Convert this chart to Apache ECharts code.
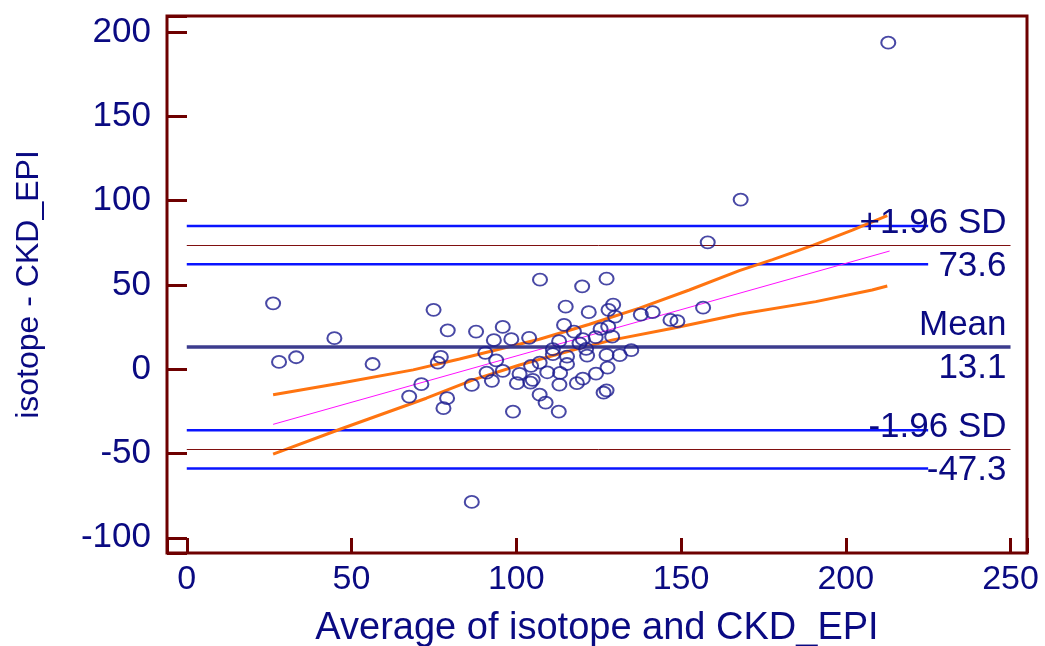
<!DOCTYPE html>
<html>
<head>
<meta charset="utf-8">
<title>Bland-Altman: isotope vs CKD_EPI</title>
<script src="https://cdn.jsdelivr.net/npm/echarts@6/dist/echarts.min.js"></script>
<style>
  html, body { margin: 0; padding: 0; background: #ffffff; }
  #chart { width: 1045px; height: 646px; }
</style>
</head>
<body>
<div id="chart"></div>
<script>
// Per-subject averages (x) and differences isotope - CKD_EPI (y)
const avgValues = [
  212.9, 168.1, 26.2, 74.9, 79.2, 44.8, 28.0, 33.2, 56.4, 77.1, 76.2,
  71.2, 67.5, 79.0, 77.9,
  158.1, 107.2, 120.0, 127.4, 115.0, 122.0, 128.0, 129.4, 130.0, 137.8,
  141.4, 146.8, 148.9, 156.7, 114.5, 117.5, 125.6, 127.9, 129.1, 124.1,
  120.2, 119.2, 113.0, 121.2, 121.5, 127.4, 131.4, 134.9, 111.1, 115.4,
  115.4, 111.1, 103.9, 98.5, 93.2, 95.9, 87.8, 90.6, 93.9, 107.1,
  104.5, 101.0, 105.0, 91.0, 95.9, 109.4, 113.3, 127.7, 124.2,
  86.5, 92.6, 100.2, 104.3, 113.1, 118.4, 120.2, 126.5, 127.4, 107.1,
  108.9, 99.0, 112.9, 86.5
];
const diffValues = [
  193.7, 100.6, 39.1, 35.2, 23.1, 18.4, 4.3, 7.1, 3.1, 7.3, 3.9,
  -8.9, -16.2, -17.2, -23.1,
  75.3, 53.1, 49.2, 53.7, 37.1, 33.8, 35.2, 38.3, 31.2, 32.4,
  33.8, 29.2, 28.5, 36.5, 26.3, 22.3, 23.9, 25.3, 19.3, 19.0,
  17.8, 15.4, 16.6, 12.0, 8.1, 8.5, 8.3, 11.3, 11.9, 7.5,
  3.1, 8.9, 18.6, 17.8, 17.2, 25.1, 22.3, 9.7, 5.3, 3.9,
  2.0, -2.8, -6.3, -2.0, -1.0, -1.8, -2.2, 0.9, -2.6,
  -9.3, -6.9, -8.3, -7.9, -9.1, -8.3, -5.6, -13.9, -12.5, -15.1,
  -19.8, -25.1, -25.1, -78.7
];

// Limits of agreement and mean difference
const limitNames = ['+1.96 SD', 'Mean', '-1.96 SD'];
const limitLevels = [73.6, 13.1, -47.3];
// 95% confidence bounds of the two limits
const limitCIUpper = [85.0, 62.3];
const limitCILower = [-36.2, -58.9];
const limitSpan = [0, 250];
const ciSpan = [0, 225];

// Regression of difference on average, with its confidence band
const regX = [26.2, 213.3];
const regY = [-32.7, 70.1];
const bandUpX = [26.2, 46.5, 68.7, 82.8, 107.0, 122.0, 137.4, 152.5, 167.7, 177.8, 190.0, 202.0, 212.6];
const bandUpY = [-15.2, -8.3, -0.4, 6.1, 17.8, 26.5, 36.2, 47.0, 58.5, 65.0, 73.5, 82.5, 91.1];
const bandLoX = [26.2, 46.5, 72.7, 86.9, 101.0, 117.2, 129.3, 147.5, 167.7, 190.9, 208.0, 212.6];
const bandLoY = [-50.4, -35.6, -17.2, -6.3, 2.5, 11.4, 17.4, 24.3, 32.6, 40.1, 47.0, 49.4];

// Axis ranges and tick step
const xRange = [-6, 255];
const yRange = [-109, 209.5];
const tickStep = 50;

const FONT = "'Liberation Sans', Arial, sans-serif";
const NAVY = '#0a0a82';
const FRAME = '#6e0000';

const zip = (xs, ys) => xs.map((x, i) => [x, ys[i]]);

const stepLabel = v => (Math.abs(v % tickStep) < 1e-9 ? String(v) : '');

function hLine(y, span, color, width, z) {
  return {
    type: 'line',
    data: [[span[0], y], [span[1], y]],
    symbol: 'none',
    silent: true,
    z: z,
    lineStyle: { color: color, width: width },
    animation: false
  };
}

const labelBase = {
  show: true,
  color: NAVY,
  fontFamily: FONT,
  fontSize: 35,
  distance: 4
};

function limitMarks(position, textOf, lineColor, lineWidth) {
  return {
    silent: true,
    symbol: 'none',
    animation: false,
    data: limitLevels.map((v, i) => [
      {
        coord: [limitSpan[0], v],
        lineStyle: {
          color: lineColor ? lineColor(i) : 'rgba(0,0,0,0)',
          width: lineWidth ? lineWidth(i) : 1,
          type: 'solid'
        },
        label: Object.assign({}, labelBase, { position: position, formatter: textOf(v, i) })
      },
      { coord: [limitSpan[1], v] }
    ])
  };
}

const series = [];

// CI bounds of the limits (blue)
limitCIUpper.concat(limitCILower).forEach(v => {
  series.push(hLine(v, ciSpan, '#0a14ff', 2.5, 2));
});

// Limits and mean, named above each line
series.push({
  type: 'line', data: [], silent: true, z: 3, animation: false,
  markLine: limitMarks(
    'insideEndTop',
    (v, i) => limitNames[i],
    i => (i === 1 ? '#3c3c8e' : '#801010'),
    i => (i === 1 ? 3.5 : 1)
  )
});
// Their values, below each line
series.push({
  type: 'line', data: [], silent: true, z: 3, animation: false,
  markLine: limitMarks('insideEndBottom', v => v.toFixed(1))
});

// Regression band (orange) and fitted line (magenta)
series.push({
  type: 'line', data: zip(bandUpX, bandUpY), symbol: 'none', silent: true, z: 4,
  lineStyle: { color: '#ff7410', width: 3 }, animation: false
});
series.push({
  type: 'line', data: zip(bandLoX, bandLoY), symbol: 'none', silent: true, z: 4,
  lineStyle: { color: '#ff7410', width: 3 }, animation: false
});
series.push({
  type: 'line', data: zip(regX, regY), symbol: 'none', silent: true, z: 4,
  lineStyle: { color: '#ff10ff', width: 1 }, animation: false
});

// Observations
series.push({
  type: 'scatter',
  data: zip(avgValues, diffValues),
  symbol: 'circle',
  symbolSize: [14, 12],
  z: 5,
  itemStyle: { color: 'rgba(255,255,255,0)', borderColor: '#1a1a8e', borderWidth: 1.9 },
  animation: false
});

const chart = echarts.init(document.getElementById('chart'), null, { renderer: 'canvas' });
chart.setOption({
  backgroundColor: '#ffffff',
  animation: false,
  grid: {
    left: 167, right: 18, top: 16, bottom: 93,
    show: true,
    borderColor: FRAME,
    borderWidth: 3,
    backgroundColor: 'transparent',
    containLabel: false,
    outerBoundsMode: 'none'
  },
  xAxis: {
    type: 'value',
    min: xRange[0], max: xRange[1],
    minInterval: tickStep, maxInterval: tickStep,
    name: 'Average of isotope and CKD_EPI',
    nameLocation: 'middle',
    nameGap: 57,
    nameTextStyle: { color: NAVY, fontFamily: FONT, fontSize: 38 },
    axisLine: { show: false, onZero: false },
    axisTick: { show: true, inside: true, length: 15, lineStyle: { color: FRAME, width: 3 } },
    axisLabel: { color: NAVY, fontFamily: FONT, fontSize: 34, margin: 10, formatter: stepLabel },
    splitLine: { show: false }
  },
  yAxis: {
    type: 'value',
    min: yRange[0], max: yRange[1],
    minInterval: tickStep, maxInterval: tickStep,
    name: 'isotope - CKD_EPI',
    nameLocation: 'middle',
    nameGap: 122,
    nameTextStyle: { color: NAVY, fontFamily: FONT, fontSize: 32 },
    axisLine: { show: false, onZero: false },
    axisTick: { show: true, inside: true, length: 20, lineStyle: { color: FRAME, width: 3 } },
    axisLabel: { color: NAVY, fontFamily: FONT, fontSize: 35, margin: 16, formatter: stepLabel },
    splitLine: { show: false }
  },
  series: series
});
</script>
</body>
</html>
